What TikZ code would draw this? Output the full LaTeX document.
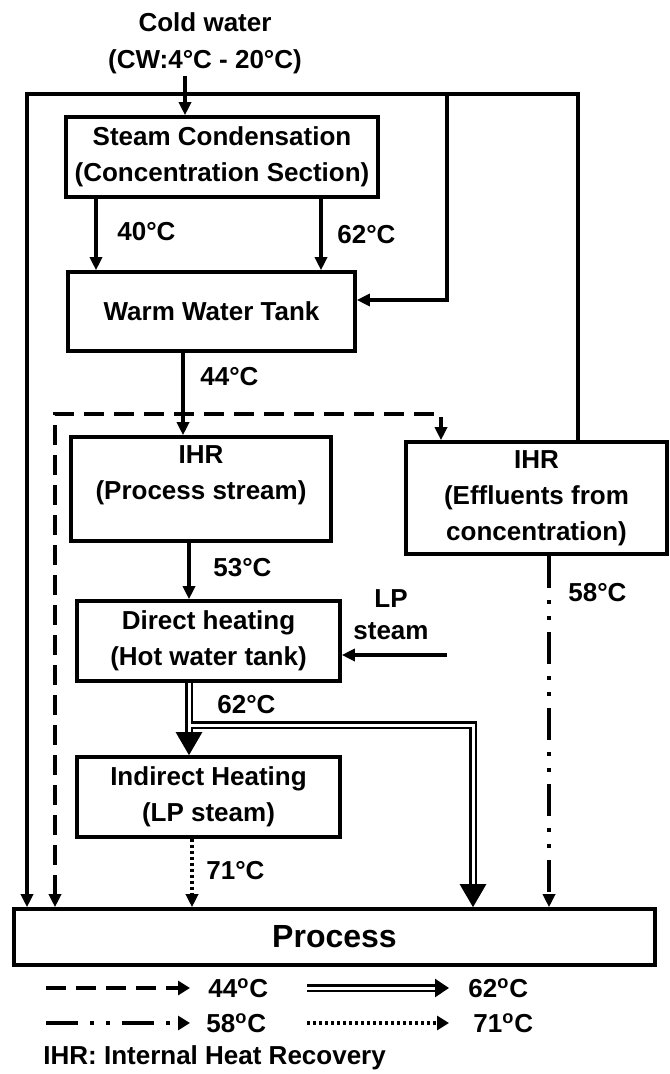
\documentclass[tikz,border=0pt]{standalone}
\usepackage{fontspec}
\setmainfont{Liberation Sans}
\usetikzlibrary{arrows.meta,positioning}

\tikzset{
  box/.style={draw, line width=1.8pt, align=center, inner sep=0pt},
  arr/.style={line width=1.8pt, -{Triangle[length=6.5pt,width=6pt]}},
  dashline/.style={line width=1.8pt, dash pattern=on 10pt off 5pt},
  dashdot/.style={line width=1.8pt, dash pattern=on 16pt off 6pt on 2pt off 6pt on 2pt off 6pt},
  dotline/.style={line width=1.8pt, dash pattern=on 1.5pt off 1.5pt},
  dbl/.style={double, double distance=1.5pt, line width=1.3pt},
  bighead/.style={-{Triangle[length=11.5pt,width=13pt]}},
  smallhead/.style={-{Triangle[length=6pt,width=7pt]}}
}

\begin{document}
\begin{tikzpicture}[x=0.5pt, y=-0.5pt, font=\fontsize{13pt}{18pt}\selectfont\bfseries, every node/.style={inner sep=0pt}]
    \useasboundingbox (0,0) rectangle (669,1074);
    % boxes
    \node[box, minimum width=156pt, minimum height=40pt] (cond) at (222,157) {Steam Condensation\\(Concentration Section)};
    \node[box, minimum width=143.5pt, minimum height=39.5pt] (wwt) at (211.5,311.5) {Warm Water Tank};
    \node[box, minimum width=130pt, minimum height=52pt] (ihrp) at (201,489) {};
    \node[align=center, below=5pt of ihrp.north] (ihrptext) {IHR\\(Process stream)};
    \node[box, minimum width=130.5pt, minimum height=56pt] (ihre) at (536.5,498) {IHR\\(Effluents from\\concentration)};
    \node[box, minimum width=131.5pt, minimum height=40pt] (dh) at (208.5,641) {Direct heating\\(Hot water tank)};
    \node[box, minimum width=131.5pt, minimum height=40pt] (ih) at (208.5,797) {Indirect Heating\\(LP steam)};
    \node[box, minimum width=320.5pt, minimum height=28pt, font=\fontsize{16pt}{20pt}\selectfont\bfseries] (proc) at (334.5,937) {Process};
    \node[align=center, font=\fontsize{13pt}{18.5pt}\selectfont\bfseries] (cold) at (205,43.5) {Cold water\\(CW:4°C - 20°C)};
    \node[align=center, font=\fontsize{13pt}{16pt}\selectfont\bfseries] (lps) at (391,615) {LP\\steam};
    % temperatures
    \foreach \n/\x/\y/\t in {t40/117/232/40, t62a/337/235/62, t44/200/377/44, t53/213/568/53, t62b/217/705/62, t71/206/871/71, t58/568/593/58}{\node[anchor=west] (\n) at (\x,\y) {\t°C};}

    % junction points
    \coordinate (cw) at (185,76);
    \coordinate (tl) at (27,94);
    \coordinate (tm) at (447,94);
    \coordinate (tr) at (578,94);
    \coordinate (tmw) at (447,300);
    \coordinate (c40) at ([xshift=-63pt]cond.south);
    \coordinate (c62) at ([xshift=49.5pt]cond.south);
    \coordinate (w44) at ([xshift=-14.25pt]wwt.south);
    \coordinate (dl) at (55,414);
    \coordinate (dr) at (441,414);
    \coordinate (p53) at ([xshift=-6pt]ihrp.south);
    \coordinate (h62) at ([xshift=-9.75pt]dh.south);
    \coordinate (br) at (190.5,725);
    \coordinate (br2) at (473,725);
    \coordinate (lp) at (447,655);
    \coordinate (e58) at ([xshift=6.25pt]ihre.south);
    \coordinate (i71) at ([xshift=-8.25pt]ih.south);

    % cold water lines
    \draw[arr] (cw) -- (cw |- cond.north);
    \draw[arr, {Triangle[length=6.5pt,width=6pt]}-] (tl |- proc.north) -- (tl) -- (tr) -- (tr |- ihre.north);
    \draw[arr] (tm) -- (tmw) -- (tmw -| wwt.east);
    \draw[arr] (c40) -- (c40 |- wwt.north);
    \draw[arr] (c62) -- (c62 |- wwt.north);
    \draw[arr] (w44) -- (w44 |- ihrp.north);
    \draw[dashline, {Triangle[length=6.5pt,width=6pt]}-{Triangle[length=6.5pt,width=6pt]}] (dl |- proc.north) -- (dl) -- (dr) -- (dr |- ihre.north);
    \draw[arr] (p53) -- (p53 |- dh.north);
    \draw[arr] (lp) -- (lp -| dh.east);
    \draw[dbl, bighead] (h62) -- (h62 |- ih.north);
    \draw[dbl, bighead] (br) -- (br2) -- (br2 |- proc.north);
    \draw[dotline, -{Triangle[length=6.5pt,width=6pt]}] (i71) -- (i71 |- proc.north);
    \draw[dashdot, -{Triangle[length=6.5pt,width=6pt]}] (e58) -- (e58 |- proc.north);

    % legend
    \node[anchor=west] (k44) at (208,988) {44\textsuperscript{o}C};
    \node[anchor=west] (k62) at (468,988) {62\textsuperscript{o}C};
    \node[anchor=west] (k58) at (206,1023) {58\textsuperscript{o}C};
    \node[anchor=west] (k71) at (473,1023) {71\textsuperscript{o}C};
    \node[anchor=west] (key) at (43,1058) {IHR: Internal Heat Recovery};
    \draw[dashline, smallhead] ([xshift=-81pt]k44.west) -- ([xshift=-9pt]k44.west);
    \draw[dashdot, smallhead] ([xshift=-80pt]k58.west) -- ([xshift=-8pt]k58.west);
    \draw[dbl, -{Triangle[length=7pt,width=9pt]}] ([xshift=-80.5pt]k62.west) -- ([xshift=-9.5pt]k62.west);
    \draw[dotline, smallhead] ([xshift=-83pt]k71.west) -- ([xshift=-12pt]k71.west);
\end{tikzpicture}
\end{document}
